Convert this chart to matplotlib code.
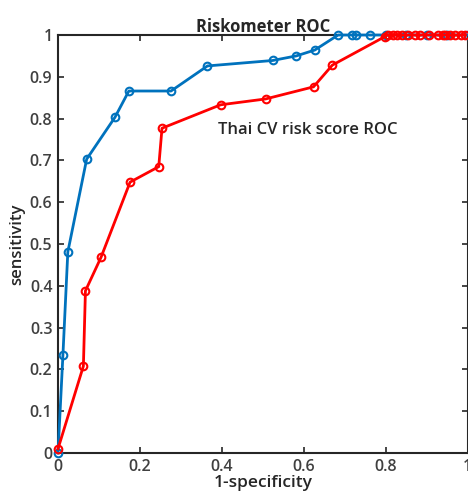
import matplotlib
matplotlib.use("Agg")
import matplotlib.pyplot as plt

# Riskometer ROC (blue)
risko_fpr = [0.0, 0.012, 0.024, 0.070, 0.139, 0.173, 0.276, 0.365, 0.524, 0.582,
             0.627, 0.684, 0.718, 0.727, 0.763, 0.80, 0.85, 0.90, 0.95, 1.0]
risko_tpr = [0.0, 0.234, 0.481, 0.703, 0.803, 0.866, 0.866, 0.926, 0.939, 0.950,
             0.964, 1.0, 1.0, 1.0, 1.0, 1.0, 1.0, 1.0, 1.0, 1.0]

# Thai CV risk score ROC (red)
thai_fpr = [0.0, 0.062, 0.067, 0.105, 0.176, 0.246, 0.254, 0.397, 0.507, 0.624,
            0.670, 0.798, 0.805, 0.817, 0.829, 0.841, 0.855, 0.873, 0.885, 0.905,
            0.929, 0.939, 0.946, 0.958, 0.970, 0.983, 0.995]
thai_tpr = [0.01, 0.208, 0.388, 0.468, 0.648, 0.685, 0.777, 0.833, 0.847, 0.876,
            0.928, 0.996, 1.0, 1.0, 1.0, 1.0, 1.0, 1.0, 1.0, 1.0,
            1.0, 1.0, 1.0, 1.0, 1.0, 1.0, 1.0]

x_ticks = [0, 0.2, 0.4, 0.6, 0.8, 1]
x_tick_labels = ["0", "0.2", "0.4", "0.6", "0.8", "1"]
y_ticks = [0, 0.1, 0.2, 0.3, 0.4, 0.5, 0.6, 0.7, 0.8, 0.9, 1]
y_tick_labels = ["0", "0.1", "0.2", "0.3", "0.4", "0.5", "0.6", "0.7", "0.8", "0.9", "1"]

plt.rcParams["font.family"] = ["Open Sans", "DejaVu Sans"]

fig = plt.figure(figsize=(4.68, 4.97), dpi=100)
ax = fig.add_axes([58 / 468, 44 / 497, 409.5 / 468, 418 / 497])

ax.plot(risko_fpr, risko_tpr, color="#0072BD", lw=2, marker="o", ms=5.5,
        mfc="none", mew=1.5, clip_on=False, zorder=3)
ax.plot(thai_fpr, thai_tpr, color="#FF0000", lw=2, marker="o", ms=5.5,
        mfc="none", mew=1.5, clip_on=False, zorder=4)

ax.text(0.39, 0.773, "Thai CV risk score ROC", fontsize=12, fontweight="semibold",
        color="#262626", ha="left", va="center")

ax.set_xlim(0, 1)
ax.set_ylim(0, 1)
ax.set_xticks(x_ticks)
ax.set_xticklabels(x_tick_labels)
ax.set_yticks(y_ticks)
ax.set_yticklabels(y_tick_labels)
ax.tick_params(direction="in", top=True, right=True, length=4, width=1.2,
               labelsize=11.5, colors="#262626", pad=4)
for lbl in ax.get_xticklabels() + ax.get_yticklabels():
    lbl.set_fontweight("semibold")
    lbl.set_color("#404040")
for sp in ax.spines.values():
    sp.set_linewidth(1.5)
    sp.set_color("#262626")

ax.set_title("Riskometer ROC", fontsize=12, fontweight="bold", color="#262626", pad=2)
ax.set_xlabel("1-specificity", fontsize=12.5, fontweight="semibold", color="#262626", labelpad=0)
ax.set_ylabel("sensitivity", fontsize=12, fontweight="semibold", color="#262626", labelpad=3)

fig.savefig("out.png", dpi=100)
